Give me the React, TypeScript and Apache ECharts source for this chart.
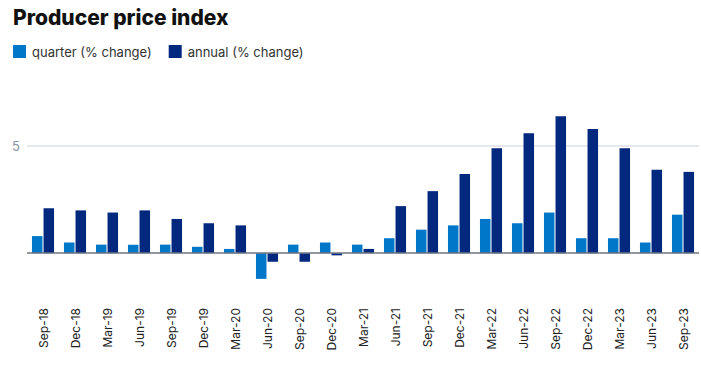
import React, { useEffect, useRef } from "react";
import * as echarts from "echarts";

const categories = [
  "Sep-18", "Dec-18", "Mar-19", "Jun-19", "Sep-19", "Dec-19", "Mar-20", "Jun-20",
  "Sep-20", "Dec-20", "Mar-21", "Jun-21", "Sep-21", "Dec-21", "Mar-22", "Jun-22",
  "Sep-22", "Dec-22", "Mar-23", "Jun-23", "Sep-23",
];
const quarterValues = [0.8, 0.5, 0.4, 0.4, 0.4, 0.3, 0.2, -1.2, 0.4, 0.5, 0.4, 0.7, 1.1, 1.3, 1.6, 1.4, 1.9, 0.7, 0.7, 0.5, 1.8];
const annualValues = [2.1, 2.0, 1.9, 2.0, 1.6, 1.4, 1.3, -0.4, -0.4, -0.1, 0.2, 2.2, 2.9, 3.7, 4.9, 5.6, 6.4, 5.8, 4.9, 3.9, 3.8];
const yTickLabels = [5];

const FONT = "Inter, 'Open Sans', sans-serif";

export default function App() {
  const ref = useRef<HTMLDivElement>(null);
  useEffect(() => {
    if (!ref.current) return;
    document.body.style.margin = "0";
    const chart = echarts.init(ref.current, null, { renderer: "svg" });
    chart.setOption({
      animation: false,
      title: {
        text: "Producer price index",
        left: 8,
        top: 2,
        textStyle: { fontFamily: FONT, fontSize: 21, fontWeight: 800, color: "#111" },
      },
      legend: {
        left: 8,
        top: 40,
        icon: "rect",
        itemWidth: 13,
        itemHeight: 13,
        itemGap: 17,
        textStyle: { fontFamily: FONT, fontSize: 13, color: "#333", padding: [0, 0, 0, 1] },
      },
      grid: { left: 27, right: 2, top: 82, bottom: 84, containLabel: false },
      xAxis: {
        type: "category",
        data: categories,
        axisLine: { show: false, onZero: false },
        axisTick: { show: false },
        axisLabel: {
          rotate: 90,
          margin: 12,
          fontFamily: FONT,
          fontSize: 12,
          color: "#222",
          interval: 0,
        },
      },
      yAxis: {
        type: "value",
        min: -2,
        max: 8,
        axisLabel: { show: false },
        splitLine: { show: false },
        axisLine: { show: false },
        axisTick: { show: false },
      },
      series: [
        {
          name: "quarter (% change)",
          type: "bar",
          data: quarterValues,
          itemStyle: { color: "#0077C8" },
          barCategoryGap: "31%",
          barGap: "10%",
          markLine: {
            silent: true,
            symbol: "none",
            z: 1,
            data: yTickLabels.map((v) => ({
              yAxis: v,
              lineStyle: { color: "#DCE0E6", width: 1.5, type: "solid" },
              label: {
                show: true,
                position: "start",
                formatter: String(v),
                fontFamily: FONT,
                fontSize: 13,
                color: "#8792A4",
                distance: 7,
              },
            })),
          },
        },
        {
          name: "annual (% change)",
          type: "bar",
          data: annualValues,
          itemStyle: { color: "#00287E" },
          barCategoryGap: "31%",
          barGap: "10%",
          markLine: {
            silent: true,
            symbol: "none",
            z: 10,
            data: [
              {
                yAxis: 0,
                lineStyle: { color: "#6E7480", width: 1.5, type: "solid" },
                label: { show: false },
              },
            ],
          },
        },
      ],
    });
    return () => chart.dispose();
  }, []);
  return <div ref={ref} style={{ width: 701, height: 380 }} />;
}
